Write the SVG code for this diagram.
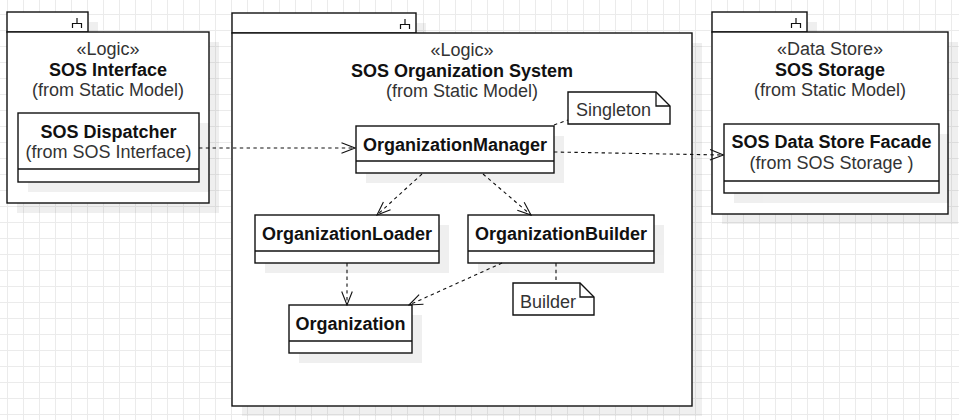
<svg xmlns="http://www.w3.org/2000/svg" width="959" height="420" viewBox="0 0 959 420">
<style>
text{font-family:"Liberation Sans",Arial,sans-serif;font-size:18px;fill:#333}
.b{font-weight:bold;fill:#111}
.m{text-anchor:middle}
.s{fill:#fff;stroke:#111;stroke-width:1.4}
.ln{fill:none;stroke:#111;stroke-width:1.3}
.c{fill:none;stroke:#111;stroke-width:1.1;stroke-dasharray:3.4 3.4}
.ic{fill:none;stroke:#111;stroke-width:1.2}
</style>
<defs>
<pattern id="grid" x="7" y="14" width="16" height="16" patternUnits="userSpaceOnUse">
<path d="M0.5 0V16M0 0.5H16" stroke="#ebebeb" stroke-width="1" fill="none"/>
</pattern>
<marker id="open" markerUnits="userSpaceOnUse" markerWidth="16" markerHeight="14" viewBox="-15 -7 16 14" refX="0" refY="0" orient="auto">
<path d="M-13.5,-5.3L0,0L-13.5,5.3" fill="none" stroke="#111" stroke-width="1.1"/>
</marker>
</defs>
<rect width="959" height="420" fill="#fff"/>
<rect width="959" height="420" fill="url(#grid)"/>

<g id="shadows" opacity="0.06">
<rect x="17" y="22" width="81" height="20"/>
<rect x="17" y="42" width="202" height="171"/>
<rect x="242" y="23" width="184" height="20"/>
<rect x="242" y="43" width="460" height="373"/>
<rect x="722" y="22" width="95" height="20"/>
<rect x="722" y="42" width="236" height="182"/>
</g>

<g id="pkg-sos-interface">
<rect class="s" x="7" y="12" width="81" height="20"/>
<rect class="s" x="7" y="32" width="202" height="171"/>
<path class="ic" d="M77 18V23.5M72.5 28V23.5H81.5V28"/>
<text class="m" x="108" y="55">«Logic»</text>
<text class="m b" x="108" y="76">SOS Interface</text>
<text class="m" x="108" y="96">(from Static Model)</text>
</g>

<g id="pkg-sos-org">
<rect class="s" x="232" y="13" width="184" height="20"/>
<rect class="s" x="232" y="33" width="460" height="373"/>
<path class="ic" d="M405 19V24.5M400.5 29V24.5H409.5V29"/>
<text class="m" x="462" y="55.5">«Logic»</text>
<text class="m b" x="462" y="77">SOS Organization System</text>
<text class="m" x="462" y="97">(from Static Model)</text>
</g>

<g id="pkg-sos-storage">
<rect class="s" x="712" y="12" width="95" height="20"/>
<rect class="s" x="712" y="32" width="236" height="182"/>
<path class="ic" d="M796 18V23.5M791.5 28V23.5H800.5V28"/>
<text class="m" x="830" y="55">«Data Store»</text>
<text class="m b" x="830" y="76">SOS Storage</text>
<text class="m" x="830" y="96">(from Static Model)</text>
</g>

<g id="inner-shadows" opacity="0.06">
<rect x="28" y="123" width="181" height="69"/>
<rect x="734" y="134" width="215" height="69"/>
<rect x="366" y="136" width="198" height="47"/>
<rect x="265" y="225" width="184" height="48"/>
<rect x="478" y="225" width="186" height="48"/>
<rect x="299" y="315" width="123" height="48"/>
</g>

<g id="sos-dispatcher">
<rect class="s" x="18" y="113" width="181" height="69"/>
<path class="ln" d="M18 169H199"/>
<text class="m b" x="108.5" y="137.5">SOS Dispatcher</text>
<text class="m" x="108.5" y="158">(from SOS Interface)</text>
</g>

<g id="sos-data-store-facade">
<rect class="s" x="724" y="124" width="215" height="69"/>
<path class="ln" d="M724 181H939"/>
<text class="m b" x="831.5" y="148">SOS Data Store Facade</text>
<text class="m" x="831.5" y="168.5">(from SOS Storage )</text>
</g>

<g id="organization-manager">
<rect class="s" x="356" y="126" width="198" height="47"/>
<path class="ln" d="M356 161H554"/>
<text class="m b" x="455" y="150.5">OrganizationManager</text>
</g>

<g id="organization-loader">
<rect class="s" x="255" y="215" width="184" height="48"/>
<path class="ln" d="M255 251H439"/>
<text class="m b" x="347" y="239.5">OrganizationLoader</text>
</g>

<g id="organization-builder">
<rect class="s" x="468" y="215" width="186" height="48"/>
<path class="ln" d="M468 251H654"/>
<text class="m b" x="561" y="239.5">OrganizationBuilder</text>
</g>

<g id="organization">
<rect class="s" x="289" y="305" width="123" height="48"/>
<path class="ln" d="M289 341H412"/>
<text class="m b" x="350.5" y="329.5">Organization</text>
</g>

<g id="note-singleton">
<path class="s" d="M568 92H656L670 106V124H568Z"/>
<path class="ln" d="M656 92V106H670"/>
<text x="576" y="116">Singleton</text>
</g>

<g id="note-builder">
<path class="s" d="M513 283H580L594 297V315H513Z"/>
<path class="ln" d="M580 283V297H594"/>
<text x="520" y="307.5">Builder</text>
</g>

<g id="connectors">
<path class="c" d="M199 148H355" marker-end="url(#open)"/>
<path class="c" d="M554 152L723.5 155" marker-end="url(#open)"/>
<path class="c" d="M422 174L377 215" marker-end="url(#open)"/>
<path class="c" d="M483 174L531 215" marker-end="url(#open)"/>
<path class="c" d="M347 263V305" marker-end="url(#open)"/>
<path class="c" d="M502 263L409 305" marker-end="url(#open)"/>
<path class="c" d="M554 125L568 120"/>
<path class="c" d="M556 263V283"/>
</g>
</svg>
